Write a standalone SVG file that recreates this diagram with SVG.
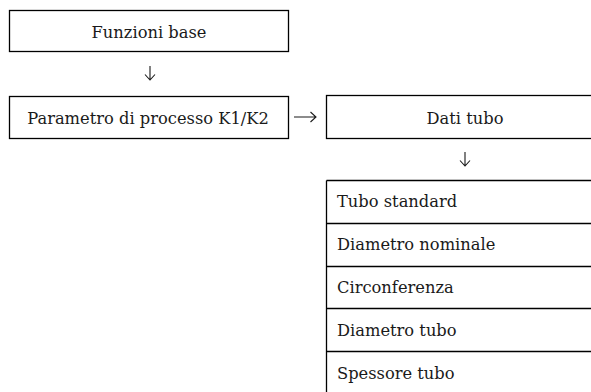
<svg xmlns="http://www.w3.org/2000/svg" width="591" height="392" viewBox="0 0 591 392">
<style>
.box{fill:#fff;stroke:#000;stroke-width:1.3}
.ln{stroke:#000;stroke-width:1.3;fill:none}
.ar{stroke:#1a1a1a;stroke-width:1.1;fill:none}
text{font-family:"DejaVu Serif","Liberation Serif",serif;font-size:16.3px;fill:#1a1a1a}
.c{text-anchor:middle}
</style>
<rect width="591" height="392" fill="#fff"/>
<g id="n1"><rect class="box" x="9.5" y="10.5" width="279" height="41"/><text class="c" x="149" y="38">Funzioni base</text></g>
<g id="n2"><rect class="box" x="9.5" y="96.5" width="279" height="42"/><text class="c" x="148" y="123.5">Parametro di processo K1/K2</text></g>
<g id="n3"><rect class="box" x="326.5" y="95.5" width="266" height="43"/><text class="c" x="465" y="123.5">Dati tubo</text></g>
<g id="n4">
<path class="ln" d="M326.5 180.5H592M326.5 180.5V393M326.5 223.5H592M326.5 266.5H592M326.5 308.5H592M326.5 351.5H592"/>
<text x="337" y="207">Tubo standard</text>
<text x="337" y="250">Diametro nominale</text>
<text x="337" y="293">Circonferenza</text>
<text x="337" y="336">Diametro tubo</text>
<text x="337" y="379">Spessore tubo</text>
</g>
<g id="connectors">
<path class="ar" d="M150 66V80M145 74.5L150 80L155 74.5"/>
<path class="ar" d="M294 117H316M310.5 112L316 117L310.5 122"/>
<path class="ar" d="M465 152V166M460 160.5L465 166L470 160.5"/>
</g>
</svg>
